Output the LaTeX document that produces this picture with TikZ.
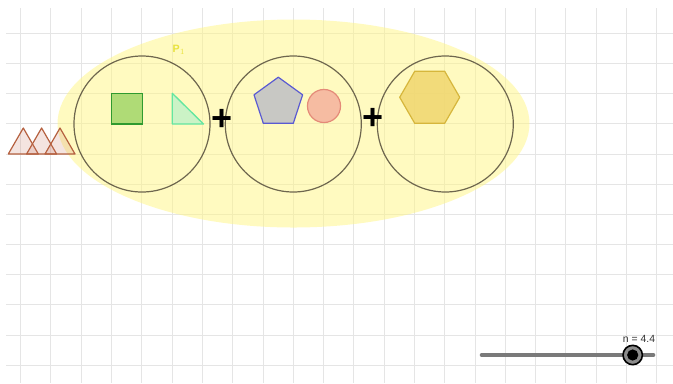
\documentclass[tikz,border=0pt]{standalone}
\usepackage{fontspec}
\setmainfont{Liberation Sans}
\definecolor{gridc}{RGB}{229,229,229}
\definecolor{ellf}{RGB}{255,246,130}
\definecolor{circc}{RGB}{110,102,78}
\definecolor{trif}{RGB}{200,120,100}
\definecolor{tris}{RGB}{181,96,63}
\definecolor{sqf}{RGB}{155,212,100}
\definecolor{sqs}{RGB}{47,154,47}
\definecolor{rtf}{RGB}{190,242,200}
\definecolor{rts}{RGB}{100,230,160}
\definecolor{penf}{RGB}{200,200,196}
\definecolor{pens}{RGB}{90,90,210}
\definecolor{orf}{RGB}{246,188,162}
\definecolor{ors}{RGB}{228,138,120}
\definecolor{hexf}{RGB}{240,214,110}
\definecolor{hexs}{RGB}{214,182,60}
\definecolor{lblc}{RGB}{232,226,60}
\definecolor{slc}{RGB}{122,122,122}
\tikzset{
  gridline/.style={draw=gridc, line width=0.75pt},
  bigcirc/.style={circle, draw=circc, line width=0.9pt, minimum size=102pt, inner sep=0pt},
  plussign/.style={inner sep=0pt, font=\fontsize{27}{27}\selectfont\bfseries},
  tribox/.style={draw=tris, fill=trif, fill opacity=0.2, draw opacity=1, line width=0.9pt, line join=round},
}
\begin{document}
\begin{tikzpicture}[x=0.75pt,y=-0.75pt]
\useasboundingbox (0,0) rectangle (673,383);
% grid (each line centred on a pixel)
\foreach \k in {0,...,21} { \draw[gridline] ({floor(20.7+30.29*\k)+0.5},8) -- ({floor(20.7+30.29*\k)+0.5},383); }
\foreach \k in {0,...,11} { \draw[gridline] (6,{floor(33.3+30.18*\k)+0.5}) -- (673,{floor(33.3+30.18*\k)+0.5}); }
% ellipse
\fill[ellf, fill opacity=0.5] (293.5,123.5) ellipse [x radius=177pt, y radius=78pt];
% P1 label
\node[text=lblc, font=\fontsize{8}{8}\selectfont\bfseries, inner sep=0pt] (p1) at (179,50) {P$_1$};
% big circles
\node[bigcirc] (c1) at (142,124) {};
\node[bigcirc] (c2) at (293.3,124) {};
\node[bigcirc] (c3) at (445.3,124) {};
% plus signs
\node[plussign] (plus1) at (222,119.5) {+};
\node[plussign] (plus2) at (373.5,119) {+};
% triangles on the left
\draw[tribox] (8.3,154) -- (23.3,128) -- (38.3,154) -- cycle;
\draw[tribox] (26.6,154) -- (41.6,128) -- (56.6,154) -- cycle;
\draw[tribox] (45,154) -- (60,128) -- (75,154) -- cycle;
% square
\draw[draw=sqs, fill=sqf, fill opacity=0.8, draw opacity=1, line width=1pt] (111.7,93.3) rectangle (142.3,124);
% right triangle
\draw[draw=rts, fill=rtf, fill opacity=0.8, draw opacity=1, line width=1pt, line join=round] (172.3,93.3) -- (172.3,124) -- (203.5,124) -- cycle;
% pentagon
\draw[draw=pens, fill=penf, line width=0.9pt, line join=round] (278.3,77.2) -- (302.6,94.8) -- (293.3,123.3) -- (263.3,123.3) -- (254.0,94.8) -- cycle;
% orange circle
\draw[draw=ors, fill=orf, line width=0.9pt] (324,106) circle [radius=12.4pt];
% hexagon
\draw[draw=hexs, fill=hexf, fill opacity=0.85, draw opacity=1, line width=0.9pt, line join=round] (459.7,97.3) -- (444.7,71.3) -- (414.7,71.3) -- (399.7,97.3) -- (414.7,123.3) -- (444.7,123.3) -- cycle;
% slider
\coordinate (s0) at (481.7,355);
\coordinate (s1) at (653.3,355);
\draw[slc, line width=3pt, line cap=round] (s0) -- (s1);
\node[circle, draw=black, line width=1.2pt, fill={rgb,255:red,140;green,140;blue,140}, minimum size=14.5pt, inner sep=0pt] (knob) at (632.7,355) {};
\fill[black] (knob.center) circle [radius=4.2pt];
\node[text={rgb,255:red,50;green,50;blue,50}, font=\fontsize{7.8}{8}\selectfont, inner sep=0pt] (nlbl) at (639,338.5) {n = 4.4};
\end{tikzpicture}
\end{document}
